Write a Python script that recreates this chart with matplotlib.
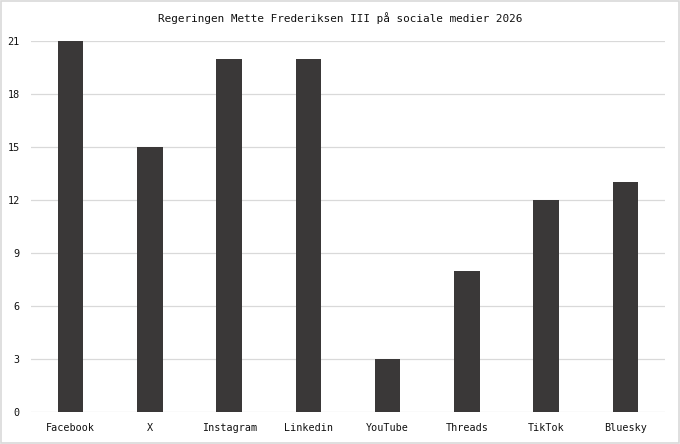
import matplotlib.pyplot as plt
from matplotlib.patches import Rectangle

# Data
platforms = ['Facebook', 'X', 'Instagram', 'Linkedin', 'YouTube', 'Threads', 'TikTok', 'Bluesky']
counts = [21, 15, 20, 20, 3, 8, 12, 13]
yticks = [0, 3, 6, 9, 12, 15, 18, 21]

plt.rcParams['font.family'] = 'DejaVu Sans Mono'

fig = plt.figure(figsize=(6.8, 4.44), dpi=100)
ax = fig.add_axes([31/680, 1 - 412/444, (665 - 31)/680, (412 - 41)/444])

ax.bar(range(len(platforms)), counts, width=0.32, color='#3a3838', zorder=3)

ax.set_xlim(-0.5, len(platforms) - 0.5)
ax.set_ylim(0, 21)
ax.set_yticks(yticks)
ax.set_xticks(range(len(platforms)))
ax.set_xticklabels(platforms)
ax.tick_params(axis='both', length=0, labelsize=7.3, colors='#111111')
ax.tick_params(axis='x', pad=8)
ax.tick_params(axis='y', pad=8)
ax.grid(axis='y', color='#d9d9d9', lw=0.9, zorder=0)
for s in ax.spines.values():
    s.set_visible(False)

fig.text(340/680, 1 - 18/444, 'Regeringen Mette Frederiksen III på sociale medier 2026',
         ha='center', va='center', fontsize=7.9, color='#111111')

# light frame around the whole figure
fig.patches.append(Rectangle((0.002, 0.003), 0.996, 0.994, transform=fig.transFigure,
                             fill=False, ec='#d9d9d9', lw=1.2))

fig.savefig('out.png', dpi=100)
